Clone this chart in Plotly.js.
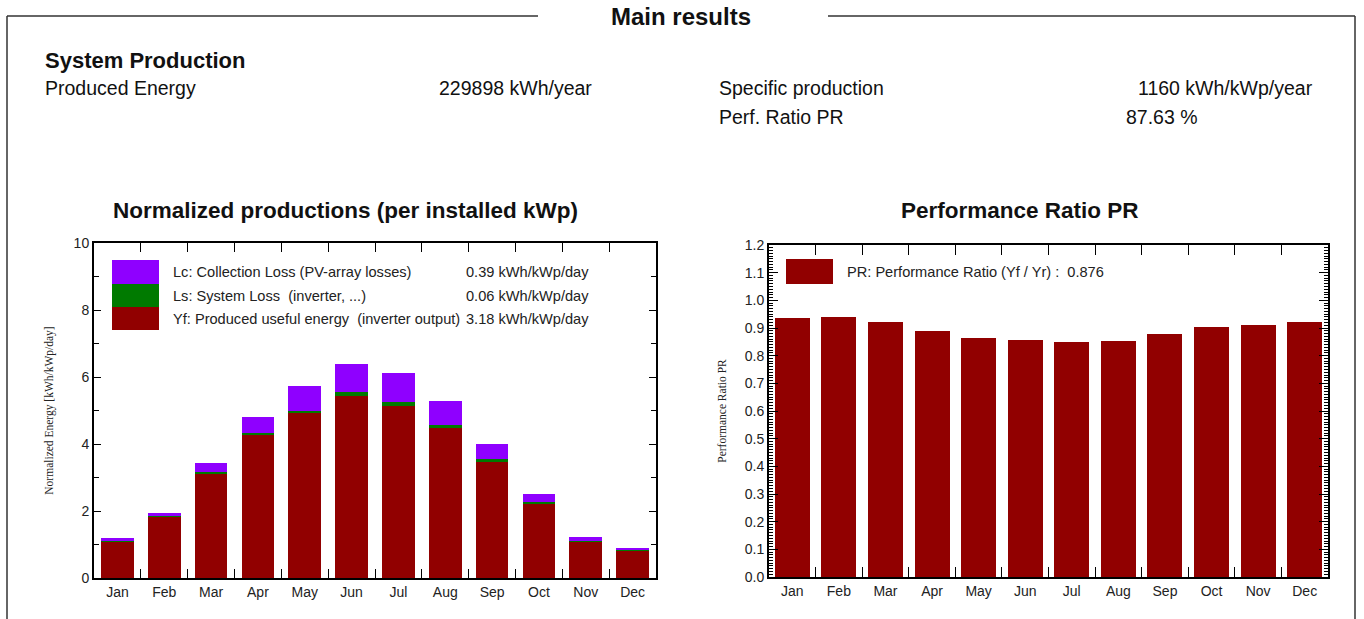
<!DOCTYPE html>
<html>
<head>
<meta charset="utf-8">
<script src="https://cdn.plot.ly/plotly-3.0.1.min.js"></script>
<style>html,body{margin:0;padding:0;background:#fff;}#chart{width:1364px;height:619px;}</style>
</head>
<body>
<div id="chart"></div>
<script>
const months = ['Jan','Feb','Mar','Apr','May','Jun','Jul','Aug','Sep','Oct','Nov','Dec'];
const yfValues = [1.07,1.81,3.11,4.26,4.92,5.42,5.14,4.47,3.45,2.20,1.06,0.80];
const lsValues = [0.03,0.04,0.06,0.08,0.08,0.12,0.10,0.09,0.09,0.07,0.04,0.03];
const lcValues = [0.09,0.10,0.27,0.48,0.72,0.86,0.87,0.73,0.46,0.24,0.11,0.08];
const prValues = [0.937,0.941,0.921,0.889,0.865,0.855,0.849,0.854,0.877,0.902,0.910,0.923];

const legendLabels = ['Lc: Collection Loss (PV-array losses)','Ls: System Loss  (inverter, ...)','Yf: Produced useful energy  (inverter output)'];
const legendValues = ['0.39 kWh/kWp/day','0.06 kWh/kWp/day','3.18 kWh/kWp/day'];
const prLegend = 'PR: Performance Ratio (Yf / Yr) :  0.876';

const summaryLeft = [['Produced Energy','229898 kWh/year']];
const summaryRight = [['Specific production','1160 kWh/kWp/year'],['Perf. Ratio PR','87.63 %']];

const W = 1364, H = 619;
const px = x => x / W;
const py = y => 1 - y / H;

const C_PURPLE = '#8f00ff', C_GREEN = '#007a00', C_RED = '#910000';
const FONT = 'Arial, "Liberation Sans", sans-serif';
const SERIF = '"Times New Roman", "Liberation Serif", serif';

const traces = [
  {type:'bar', x:months, y:yfValues, xaxis:'x', yaxis:'y', width:0.7, marker:{color:C_RED}, name:'Yf'},
  {type:'bar', x:months, y:lsValues, xaxis:'x', yaxis:'y', width:0.7, marker:{color:C_GREEN}, name:'Ls'},
  {type:'bar', x:months, y:lcValues, xaxis:'x', yaxis:'y', width:0.7, marker:{color:C_PURPLE}, name:'Lc'},
  {type:'bar', x:months, y:prValues, xaxis:'x2', yaxis:'y2', width:0.75, marker:{color:C_RED}, name:'PR'}
];

const axCommon = {
  showline:true, linecolor:'#000', linewidth:2, mirror:'ticks',
  ticks:'inside', tickcolor:'#000', showgrid:false, zeroline:false,
  tickfont:{family:FONT, size:14, color:'#222'}
};

const annotations = [];
const shapes = [];

// Frame
const fc = '#333';
shapes.push({type:'line', xref:'paper', yref:'paper', x0:px(7), x1:px(538), y0:py(16), y1:py(16), line:{color:fc, width:1.5}});
shapes.push({type:'line', xref:'paper', yref:'paper', x0:px(828), x1:px(1355), y0:py(16), y1:py(16), line:{color:fc, width:1.5}});
shapes.push({type:'line', xref:'paper', yref:'paper', x0:px(7), x1:px(7), y0:py(16), y1:0, line:{color:fc, width:1.5}});
shapes.push({type:'line', xref:'paper', yref:'paper', x0:px(1355), x1:px(1355), y0:py(16), y1:0, line:{color:fc, width:1.5}});

const txt = (x, y, text, size, anchor, color) => annotations.push({xref:'paper', yref:'paper', x:px(x), y:py(y), text:text, showarrow:false, xanchor:anchor, yanchor:'middle', font:{family:FONT, size:size, color:color||'#111'}});

txt(681, 16, '<b>Main results</b>', 24, 'center');
txt(43, 60, '<b>System Production</b>', 22, 'left');
summaryLeft.forEach((r,i)=>{
  txt(43, 88+29*i, r[0], 19.5, 'left');
  txt(594, 88+29*i, r[1], 19.5, 'right');
});
summaryRight.forEach((r,i)=>{ txt(717, 88+29*i, r[0], 19.5, 'left'); });
txt(1315, 88, summaryRight[0][1], 19.5, 'right');
txt(1124, 117, summaryRight[1][1], 19.5, 'left');

// Chart titles
txt(345, 211, '<b>Normalized productions (per installed kWp)</b>', 22.5, 'center');
txt(1020, 211, '<b>Performance Ratio PR</b>', 22.5, 'center');

// Left legend
const swCols = [C_PURPLE, C_GREEN, C_RED];
const swY = [260, 284, 307, 330];
swCols.forEach((c,i)=>{
  shapes.push({type:'rect', xref:'paper', yref:'paper', x0:px(112), x1:px(159), y0:py(swY[i+1]), y1:py(swY[i]), fillcolor:c, line:{width:0}});
  txt(171, 272+23.5*i, legendLabels[i], 14.6, 'left', '#222');
  txt(591, 272+23.5*i, legendValues[i], 14.6, 'right', '#222');
});
// Right legend
shapes.push({type:'rect', xref:'paper', yref:'paper', x0:px(786), x1:px(833), y0:py(284), y1:py(259), fillcolor:C_RED, line:{width:0}});
txt(845, 272, prLegend, 14.6, 'left', '#222');

const layout = {
  width:W, height:H, margin:{l:0,r:0,t:0,b:0},
  paper_bgcolor:'#fff', plot_bgcolor:'#fff',
  showlegend:false, barmode:'stack',
  xaxis: Object.assign({}, axCommon, {domain:[px(94), px(656)], anchor:'y', type:'category', tickson:'boundaries', ticklen:9}),
  yaxis: Object.assign({}, axCommon, {domain:[py(578), py(243)], anchor:'x', range:[0,10], tickvals:[0,2,4,6,8,10], ticklen:7,
    minor:{dtick:1, ticks:'inside', ticklen:5, tickcolor:'#000', showgrid:false},
    title:{text:'Normalized Energy [kWh/kWp/day]', font:{family:SERIF, size:11.5, color:'#222'}, standoff:18}}),
  xaxis2: Object.assign({}, axCommon, {domain:[px(769), px(1328)], anchor:'y2', type:'category', tickson:'boundaries', ticklen:10}),
  yaxis2: Object.assign({}, axCommon, {domain:[py(577), py(245)], anchor:'x2', range:[0,1.2], dtick:0.1, tickformat:'.1f', ticklen:9,
    minor:{dtick:0.01, ticks:'inside', ticklen:4, tickcolor:'#000', tickwidth:1, showgrid:false},
    title:{text:'Performance Ratio PR', font:{family:SERIF, size:11.5, color:'#222'}, standoff:16}}),
  shapes:shapes, annotations:annotations
};

Plotly.newPlot('chart', traces, layout, {displayModeBar:false, staticPlot:true});
</script>
</body>
</html>
